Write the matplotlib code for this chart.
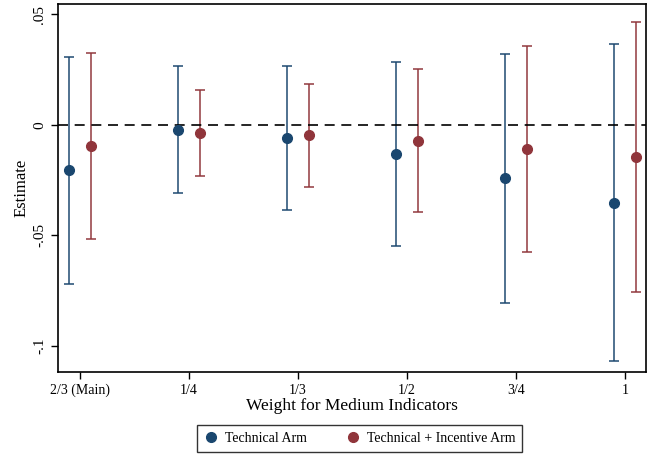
import numpy as np
import matplotlib
matplotlib.use('Agg')
import matplotlib.pyplot as plt

plt.rcParams['font.family'] = ['Liberation Serif', 'DejaVu Serif']

# weights for medium indicators
weights = ['2/3 (Main)', '1/4', '1/3', '1/2', '3/4', '1']

# Technical arm: estimate, lower and upper CI
tech_est = [-0.0206, -0.0023, -0.0059, -0.0132, -0.0242, -0.0352]
tech_lo = [-0.0718, -0.0309, -0.0385, -0.0547, -0.0804, -0.1068]
tech_hi = [0.0305, 0.0265, 0.0267, 0.0283, 0.0321, 0.0366]

# Technical + incentive arm
inc_est = [-0.0098, -0.0038, -0.0048, -0.0072, -0.0110, -0.0145]
inc_lo = [-0.0515, -0.0230, -0.0283, -0.0396, -0.0574, -0.0755]
inc_hi = [0.0323, 0.0157, 0.0185, 0.0252, 0.0357, 0.0464]

navy = '#1a476f'
maroon = '#90353b'

fig = plt.figure(figsize=(6.52, 4.55), dpi=100)
ax = fig.add_axes([0.0894, 0.183, 0.9009, 0.808])

x = np.arange(len(weights))

def draw(xpos, est, lo, hi, col, lab):
	est = np.array(est)
	err = np.vstack([est - np.array(lo), np.array(hi) - est])
	ax.errorbar(xpos, est, yerr=err, fmt='none', ecolor=col, elinewidth=1.2,
				capsize=3.5, capthick=1.2, alpha=0.9)
	ax.plot(xpos, est, 'o', color=col, markersize=7, label=lab, zorder=3)

draw(x - 0.1, tech_est, tech_lo, tech_hi, navy, 'Technical Arm')
draw(x + 0.1, inc_est, inc_lo, inc_hi, maroon, 'Technical + Incentive Arm')

ax.axhline(0, color='black', linestyle=(0, (6, 4)), linewidth=1.2)

ax.set_xlim(-0.2, 5.19)
ax.set_ylim(-0.1116, 0.0545)
ax.set_xticks(x)
ax.set_xticklabels(weights, fontsize=10)
ax.set_yticks([0.05, 0, -0.05, -0.1])
ax.set_yticklabels(['.05', '0', '-.05', '-.1'], fontsize=11, rotation=90, va='center')
ax.tick_params(direction='out', length=5, width=1)
for s in ax.spines.values():
	s.set_linewidth(1.2)

ax.set_xlabel('Weight for Medium Indicators', fontsize=12.5, labelpad=1)
ax.set_ylabel('Estimate', fontsize=12, labelpad=3)

leg = fig.legend(loc='center', bbox_to_anchor=(0.552, 0.037), ncol=2, fontsize=10,
				 frameon=True, fancybox=False, edgecolor='black', handletextpad=0.5,
				 columnspacing=2.8, borderpad=0.5, handlelength=1.0)
leg.get_frame().set_linewidth(1.0)

fig.savefig('out.png', dpi=100)
